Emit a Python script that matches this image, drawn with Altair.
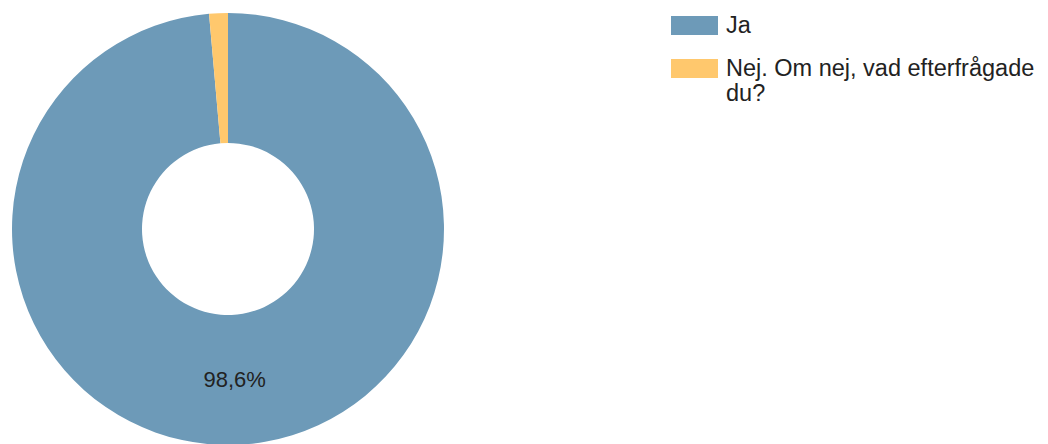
import altair as alt
import pandas as pd

categories = ["Ja", "Nej. Om nej, vad efterfrågade du?"]
values = [98.6, 1.4]
labels = ["98,6%", ""]
colors = ["#6d9ab8", "#ffc86d"]

df = pd.DataFrame({"kategori": categories, "andel": values, "etikett": labels})

wrap_expr = (
    "datum.label == 'Nej. Om nej, vad efterfrågade du?' ? "
    "['Nej. Om nej, vad efterfrågade', 'du?'] : datum.label"
)

color = alt.Color(
    "kategori:N",
    scale=alt.Scale(domain=categories, range=colors),
    sort=categories,
    legend=alt.Legend(
        title=None,
        orient="none",
        legendX=671,
        legendY=2,
        symbolType="M-1,-0.404 L1,-0.404 L1,0.404 L-1,0.404 Z",
        symbolSize=2209,
        symbolStrokeWidth=0,
        symbolOpacity=1,
        labelFont="Liberation Sans",
        labelFontSize=23.5,
        labelColor="#222222",
        labelOffset=8,
        labelLimit=400,
        labelExpr=wrap_expr,
        rowPadding=8,
        padding=0,
    ),
)

base = alt.Chart(df).encode(
    theta=alt.Theta("andel:Q", stack=True),
    order=alt.Order("kategori:N", sort="ascending"),
    x=alt.value(228),
    y=alt.value(229),
)

arcs = base.mark_arc(outerRadius=216, innerRadius=86, stroke=None).encode(color=color)

text = base.mark_text(
    radius=151,
    font="Liberation Sans",
    fontSize=22,
    color="#222222",
).encode(text="etikett:N", detail="kategori:N")

chart = (
    alt.layer(arcs, text)
    .properties(width=1048, height=444, autosize=alt.AutoSizeParams(type="none"), padding=0, background="white")
    .configure_view(stroke=None)
)

chart.save("out.html", embed_options={"renderer": "svg", "actions": False})
